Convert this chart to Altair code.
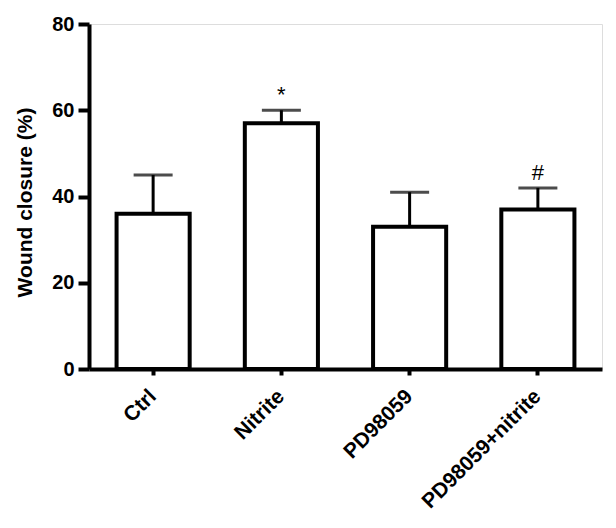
import altair as alt
import pandas as pd

groups = ["Ctrl", "Nitrite", "PD98059", "PD98059+nitrite"]
means = [36, 57, 33, 37]
upper = [45, 60, 41, 42]
marks = ["", "*", "", "#"]

df = pd.DataFrame({"group": groups, "mean": means, "upper": upper, "mark": marks})

FONT = "Liberation Sans"

x = alt.X("group:N", sort=groups, title=None,
          scale=alt.Scale(paddingInner=0.43, paddingOuter=0.215),
          axis=alt.Axis(labelAngle=-45, labelAlign="right", labelBaseline="middle",
                        labelFont=FONT, labelFontSize=21, labelFontWeight="bold",
                        labelColor="black", labelPadding=18,
                        domainColor="black", domainWidth=4,
                        tickColor="black", tickWidth=4, tickSize=6))
y = alt.Y("mean:Q", title="Wound closure (%)",
          scale=alt.Scale(domain=[0, 80], nice=False),
          axis=alt.Axis(values=[0, 20, 40, 60, 80], grid=False,
                        labelFont=FONT, labelFontSize=20, labelFontWeight="bold",
                        labelColor="black", labelPadding=4,
                        titleFont=FONT, titleFontSize=21, titleFontWeight="bold",
                        titleColor="black", titleX=-75, titleY=178,
                        titleBaseline="top", titleAngle=270,
                        domainColor="black", domainWidth=4,
                        tickColor="black", tickWidth=4, tickSize=11))

base = alt.Chart(df)

bars = base.mark_bar(fill="white", stroke="black", strokeWidth=4).encode(x=x, y=y)
err = base.mark_rule(color="black", strokeWidth=3).encode(
    x=alt.X("group:N", sort=groups), y="mean:Q", y2="upper:Q")
caps = base.mark_tick(color="black", thickness=3, size=39, orient="horizontal").encode(
    x=alt.X("group:N", sort=groups), y="upper:Q")
txt = base.mark_text(font=FONT, fontSize=22, color="black", dy=-15, baseline="middle").encode(
    x=alt.X("group:N", sort=groups), y="upper:Q", text="mark:N")

chart = alt.layer(bars, err, caps, txt).properties(
    width=513, height=345,
    autosize=alt.AutoSizeParams(type="none"),
    padding={"left": 81, "top": 16, "right": 6, "bottom": 150},
).configure_view(stroke=None).configure(background="white")

chart.save("out.html", embed_options={"renderer": "svg", "actions": False})
